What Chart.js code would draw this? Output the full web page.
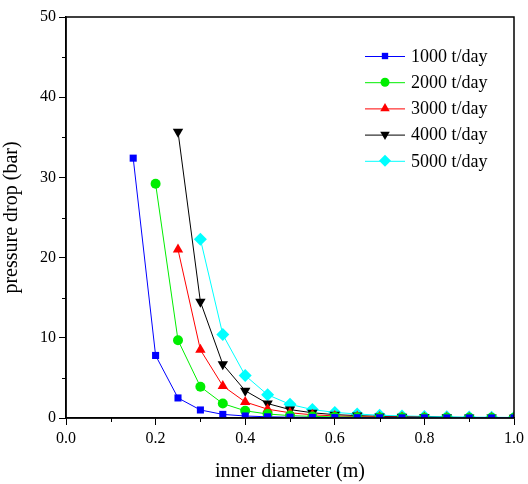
<!DOCTYPE html>
<html>
<head>
<meta charset="utf-8">
<script src="https://cdn.jsdelivr.net/npm/chart.js@4/dist/chart.umd.min.js"></script>
<style>
  body { margin: 0; background: #fff; }
  #wrap { width: 528px; height: 484px; }
</style>
</head>
<body>
<div id="wrap"><canvas id="my-chart" width="528" height="484"></canvas></div>
<script>
// inner diameter (m)
const diameters = [0.15, 0.2, 0.25, 0.3, 0.35, 0.4, 0.45, 0.5, 0.55, 0.6, 0.65, 0.7, 0.75, 0.8, 0.85, 0.9, 0.95, 1.0];
const seriesNames = ['1000 t/day', '2000 t/day', '3000 t/day', '4000 t/day', '5000 t/day'];
// pressure drop (bar)
const drop1000 = [32.4, 7.8, 2.5, 1.0, 0.45, 0.25, 0.15, 0.1, 0.07, 0.05, 0.04, 0.03, 0.02, 0.02, 0.01, 0.01, 0.01, 0.01];
const drop2000 = [null, 29.2, 9.7, 3.9, 1.8, 0.9, 0.5, 0.3, 0.2, 0.14, 0.1, 0.07, 0.05, 0.04, 0.03, 0.02, 0.02, 0.02];
const drop3000 = [null, null, 21.0, 8.5, 4.0, 2.0, 1.1, 0.65, 0.4, 0.26, 0.18, 0.13, 0.1, 0.07, 0.05, 0.04, 0.03, 0.03];
const drop4000 = [null, null, 35.7, 14.5, 6.7, 3.4, 1.8, 1.05, 0.65, 0.42, 0.3, 0.2, 0.15, 0.11, 0.08, 0.06, 0.05, 0.04];
const drop5000 = [null, null, null, 22.3, 10.4, 5.3, 2.9, 1.7, 1.05, 0.7, 0.5, 0.35, 0.26, 0.2, 0.15, 0.11, 0.09, 0.07];
const xTicks = [0, 0.2, 0.4, 0.6, 0.8, 1.0];
const yTicks = [0, 10, 20, 30, 40, 50];

const colors = ['#0000ff', '#00ee00', '#ff0000', '#000000', '#00ffff'];
const styles = ['rect', 'circle', 'triangle', 'triangle', 'rectRot'];
const rotations = [0, 0, 0, 180, 0];
const radii = [5, 5, 6, 6, 6.5];
const serif = '"Liberation Serif", "Times New Roman", serif';

function toPoints(values) {
  const pts = [];
  values.forEach(function (v, i) {
    if (v !== null) pts.push({ x: diameters[i], y: v });
  });
  return pts;
}

const allSeries = [drop1000, drop2000, drop3000, drop4000, drop5000];
const datasets = allSeries.map(function (vals, i) {
  return {
    label: seriesNames[i],
    data: toPoints(vals),
    borderColor: colors[i],
    backgroundColor: colors[i],
    borderWidth: 1,
    pointStyle: styles[i],
    pointRotation: rotations[i],
    pointRadius: radii[i],
    pointBorderWidth: 0,
    pointHoverRadius: radii[i],
    tension: 0
  };
});

// box, minor ticks and legend with line-marker-line samples
const extras = {
  id: 'extras',
  afterDraw(chart) {
    const ctx = chart.ctx;
    const a = chart.chartArea;
    const xs = chart.scales.x, ys = chart.scales.y;
    ctx.save();
    ctx.strokeStyle = '#000';
    ctx.lineWidth = 1.5;
    ctx.strokeRect(a.left, a.top, a.right - a.left, a.bottom - a.top);
    ctx.lineWidth = 1;
    ctx.beginPath();
    for (let v = 0.1; v < 1; v += 0.2) {
      const px = Math.round(xs.getPixelForValue(v)) + 0.5;
      ctx.moveTo(px, a.bottom);
      ctx.lineTo(px, a.bottom + 4);
    }
    for (let v = 5; v < 50; v += 10) {
      const py = Math.round(ys.getPixelForValue(v)) + 0.5;
      ctx.moveTo(a.left, py);
      ctx.lineTo(a.left - 4, py);
    }
    ctx.stroke();

    ctx.font = '18px ' + serif;
    ctx.textBaseline = 'middle';
    ctx.textAlign = 'left';
    chart.data.datasets.forEach(function (ds, i) {
      const y = 56 + i * 26.2;
      ctx.strokeStyle = ds.borderColor;
      ctx.lineWidth = 1;
      ctx.beginPath();
      ctx.moveTo(365, y + 0.5);
      ctx.lineTo(405, y + 0.5);
      ctx.stroke();
      ctx.fillStyle = ds.backgroundColor;
      Chart.helpers.drawPoint(ctx, {
        pointStyle: ds.pointStyle,
        rotation: ds.pointRotation,
        radius: ds.pointRadius - 0.5,
        borderWidth: 0
      }, 385, y);
      ctx.fillStyle = '#000';
      ctx.fillText(ds.label, 411, y + 1);
    });
    ctx.restore();
  }
};

const ctx = document.getElementById('my-chart');
const myChart = new Chart(ctx, {
  type: 'line',
  data: { datasets: datasets },
  options: {
    responsive: false,
    animation: false,
    layout: { padding: { left: 0, right: 12, top: 17, bottom: 0 } },
    plugins: {
      legend: { display: false },
      tooltip: { enabled: false }
    },
    scales: {
      x: {
        type: 'linear',
        min: 0,
        max: 1,
        afterFit(scale) { scale.height = 66; },
        afterBuildTicks(scale) { scale.ticks = xTicks.map(function (v) { return { value: v }; }); },
        ticks: {
          color: '#000',
          font: { family: serif, size: 16 },
          padding: 4,
          maxRotation: 0,
          callback: function (v) { return Number(v).toFixed(1); }
        },
        grid: { drawOnChartArea: false, drawTicks: true, tickLength: 7, color: '#000', lineWidth: 1 },
        border: { color: '#000', width: 1.5 },
        title: {
          display: true,
          text: 'inner diameter (m)',
          color: '#000',
          font: { family: serif, size: 20 },
          padding: { top: 7, bottom: 0 }
        }
      },
      y: {
        min: 0,
        max: 50,
        afterFit(scale) { scale.width = 66; },
        afterBuildTicks(scale) { scale.ticks = yTicks.map(function (v) { return { value: v }; }); },
        ticks: {
          color: '#000',
          font: { family: serif, size: 16 },
          padding: 3
        },
        grid: { drawOnChartArea: false, drawTicks: true, tickLength: 7, color: '#000', lineWidth: 1 },
        border: { color: '#000', width: 1.5 },
        title: {
          display: true,
          text: 'pressure drop (bar)',
          color: '#000',
          font: { family: serif, size: 20 },
          padding: { top: 0, bottom: 4 }
        }
      }
    }
  },
  plugins: [extras]
});
</script>
</body>
</html>
